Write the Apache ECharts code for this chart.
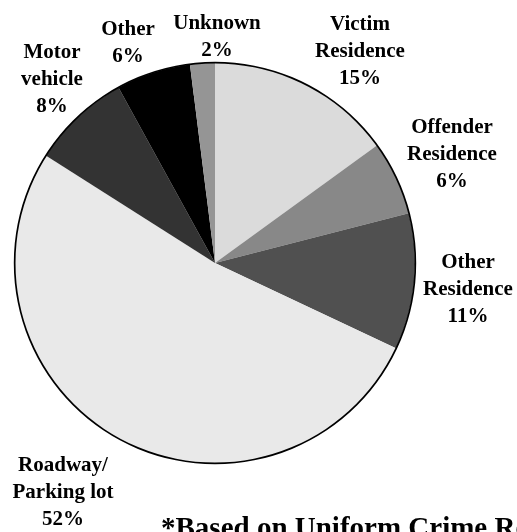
<!DOCTYPE html>
<html>
<head>
<meta charset="utf-8">
<script src="https://cdn.jsdelivr.net/npm/echarts@6/dist/echarts.min.js"></script>
<style>
  html, body { margin: 0; padding: 0; background: #fff; }
  #chart { width: 517px; height: 532px; }
</style>
</head>
<body>
<div id="chart"></div>
<script>
const categories = ['Victim\nResidence', 'Offender\nResidence', 'Other\nResidence', 'Roadway/\nParking lot', 'Motor\nvehicle', 'Other', 'Unknown']
const values = [15, 6, 11, 52, 8, 6, 2]
const colors = ['#dbdbdb', '#888888', '#505050', '#e9e9e9', '#333333', '#000000', '#959595']
// label centres (px), one per slice
const labelPos = [[360, 52], [452, 155], [468, 290], [63, 493], [52, 80], [128, 43], [217, 37]]

const center = [215, 263]
const R = 200

const chart = echarts.init(document.getElementById('chart'))
chart.setOption({
  animation: false,
  title: {
    text: '*Based on Uniform Crime Reports',
    left: 156,
    top: 510,
    textStyle: {
      fontFamily: 'Liberation Serif',
      fontWeight: 'bold',
      fontSize: 29,
      color: '#000'
    }
  },
  series: [
    {
      type: 'pie',
      center: center,
      radius: [0, R],
      startAngle: 90,
      clockwise: true,
      silent: true,
      avoidLabelOverlap: false,
      itemStyle: { borderWidth: 0 },
      label: {
        show: true,
        position: 'outside',
        formatter: p => p.name + '\n' + p.value + '%',
        fontFamily: 'Liberation Serif',
        fontWeight: 'bold',
        fontSize: 21,
        lineHeight: 27,
        color: '#000',
        align: 'center',
        overflow: 'none'
      },
      labelLine: { show: false },
      labelLayout: p => ({
        x: labelPos[p.dataIndex][0],
        y: labelPos[p.dataIndex][1],
        align: 'center',
        verticalAlign: 'middle',
        hideOverlap: false
      }),
      data: categories.map((c, i) => ({ name: c, value: values[i], itemStyle: { color: colors[i] } }))
    },
    {
      type: 'pie',
      center: center,
      radius: [R - 0.5, R + 1.2],
      silent: true,
      label: { show: false },
      labelLine: { show: false },
      itemStyle: { color: '#000', borderWidth: 0 },
      data: [1]
    }
  ]
})
</script>
</body>
</html>
